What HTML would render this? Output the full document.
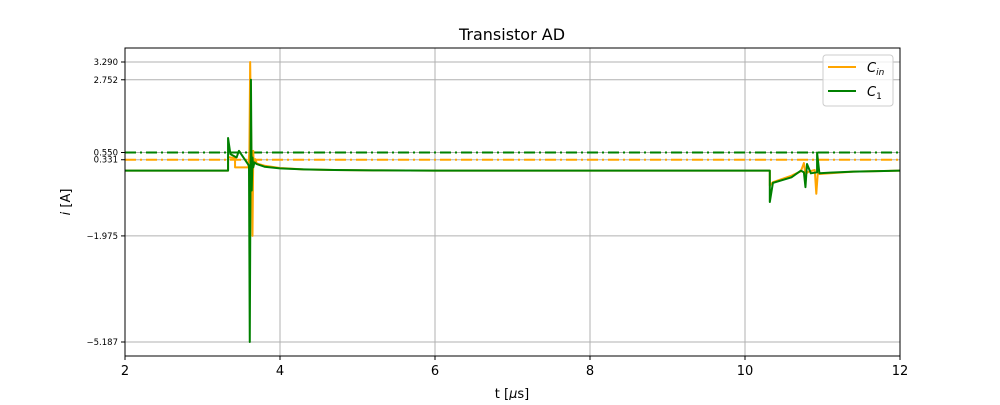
<!DOCTYPE html>
<html><head><meta charset="utf-8">
<style>
body{margin:0;background:#fff;}
svg text{font-family:"DejaVu Sans","Liberation Sans",sans-serif;}
</style></head>
<body>
<svg id="chart" width="1000" height="400" xmlns="http://www.w3.org/2000/svg">
<rect width="1000" height="400" fill="#fff"/>
<text x="512" y="40" font-size="16" text-anchor="middle">Transistor AD</text>
<g id="grid"></g>
<g id="series"></g>
<rect x="125" y="48" width="775" height="308" fill="none" stroke="#000" stroke-width="1"/>
<g id="ticks"></g>
<text x="512" y="398" font-size="13" text-anchor="middle">t [<tspan font-style="italic">μ</tspan>s]</text>
<text transform="translate(70,202) rotate(-90)" font-size="13" text-anchor="middle"><tspan font-style="italic">i</tspan> [A]</text>
<g>
<rect x="823" y="55" width="70" height="51" rx="3" fill="#fff" fill-opacity="0.8" stroke="#ccc"/>
<line x1="828" y1="67" x2="856" y2="67" stroke="orange" stroke-width="2"/>
<text x="867" y="72" font-size="13" font-style="italic">C<tspan font-size="9" dy="3">in</tspan></text>
<line x1="828" y1="91" x2="856" y2="91" stroke="green" stroke-width="2"/>
<text x="867" y="96" font-size="13" font-style="italic">C<tspan font-size="9" dy="3" font-style="normal">1</tspan></text>
</g>
</svg>
<script>
const xTicks=[2,4,6,8,10,12];
const yTicks=[3.290,2.752,0.550,0.331,-1.975,-5.187];
const refOrange=0.331;
const refGreen=0.550;
const tO=[2,3.33,3.33,3.42,3.42,3.59,3.605,3.615,3.645,3.655,3.66,3.68,3.7,3.8,4.0,4.3,4.7,5.2,6,10.32,10.32,10.36,10.6,10.72,10.76,10.78,10.82,10.9,10.92,10.94,10.96,11.1,11.4,12];
const vO=[0,0,0.41,0.38,0.1,0.1,0.6,3.29,-1.975,0.6,0.2,0.35,0.22,0.15,0.08,0.04,0.02,0.01,0,0,-0.45,-0.35,-0.15,-0.02,0.23,-0.1,-0.03,0.02,-0.7,-0.05,-0.1,-0.08,-0.03,0];
const tG=[2,3.33,3.33,3.36,3.44,3.47,3.6,3.61,3.625,3.635,3.645,3.655,3.67,3.7,3.8,4.0,4.3,4.7,5.2,6,10.32,10.32,10.36,10.6,10.72,10.76,10.78,10.8,10.85,10.93,10.93,10.96,11.1,11.4,12];
const vG=[0,0,0.99,0.5,0.4,0.6,0.15,-5.187,2.752,-0.6,0.4,0.1,0.25,0.2,0.12,0.07,0.04,0.02,0.01,0,0,-0.95,-0.37,-0.2,0.0,-0.05,-0.5,0.2,-0.08,-0.05,0.55,-0.08,-0.06,-0.03,0];
const X0=125,X1=900,Y0=48,Y1=356;
const yMax=3.29+14/33.03, yMin=-5.187-14/33.03;
function sx(t){return X0+(t-2)/(12-2)*(X1-X0);}
function sy(v){return Y0+(yMax-v)/(yMax-yMin)*(Y1-Y0);}
const NS="http://www.w3.org/2000/svg";
function mk(tag,attrs,parent){const e=document.createElementNS(NS,tag);for(const k in attrs)e.setAttribute(k,attrs[k]);parent.appendChild(e);return e;}
const grid=document.getElementById('grid'),ticks=document.getElementById('ticks'),series=document.getElementById('series');
xTicks.forEach(t=>{
 const g=mk('line',{x1:sx(t),x2:sx(t),y1:Y0,y2:Y1,stroke:'#b0b0b0','stroke-width':1},grid);
 
 
 mk('line',{x1:sx(t),x2:sx(t),y1:Y1,y2:Y1+4,stroke:'#000'},ticks);
 const l=mk('text',{x:sx(t),y:Y1+19,'font-size':13,'text-anchor':'middle'},ticks);
 l.textContent=String(t);
 
 
});
yTicks.forEach(v=>{
 const g=mk('line',{x1:X0,x2:X1,y1:sy(v),y2:sy(v),stroke:'#b0b0b0','stroke-width':1},grid);
 
 
 mk('line',{x1:X0-4,x2:X0,y1:sy(v),y2:sy(v),stroke:'#000'},ticks);
 const l=mk('text',{x:X0-7,y:sy(v)+3,'font-size':8.5,'text-anchor':'end'},ticks);
 l.textContent=(v<0?'\u2212':'')+Math.abs(v).toFixed(3);
 
 
});
function ref(v,c,name){
 const e=mk('line',{x1:X0,x2:X1,y1:sy(v),y2:sy(v),stroke:c,'stroke-width':2,'stroke-dasharray':'11,4,2,4'},series);
 
 
}
ref(refOrange,'orange','cin-reference-line');
ref(refGreen,'green','c1-reference-line');
function line(ts,vs,c,name){
 const d=ts.map((t,i)=>(i?'L':'M')+sx(t).toFixed(2)+','+sy(vs[i]).toFixed(2)).join(' ');
 const e=mk('path',{d:d,fill:'none',stroke:c,'stroke-width':2,'stroke-linejoin':'round'},series);
 
 
}
line(tO,vO,'orange','cin-series');
line(tG,vG,'green','c1-series');
</script>
</body></html>
